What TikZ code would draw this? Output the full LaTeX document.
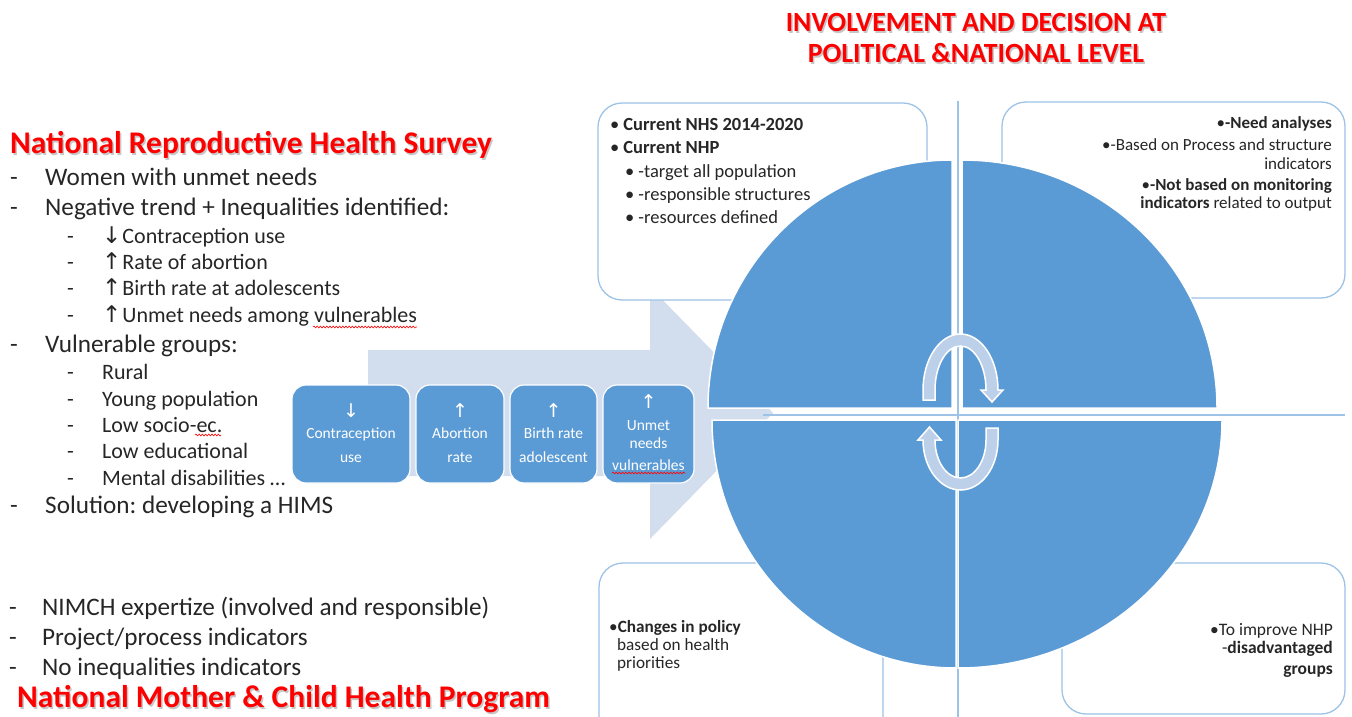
\documentclass[tikz,border=0pt]{standalone}
\usepackage{fontspec}
\setmainfont{Carlito}
\newfontfamily\arrowfont{DejaVu Sans}
\usetikzlibrary{decorations.pathmorphing}
\definecolor{pieblue}{HTML}{5B9BD5}
\definecolor{boxline}{HTML}{9DC3E6}
\definecolor{bigarrow}{HTML}{D2DDEE}
\definecolor{cycfill}{HTML}{BDD0EA}
\definecolor{titlered}{HTML}{FF0000}
\definecolor{txt}{HTML}{262626}
\frenchspacing
\begin{document}
\begin{tikzpicture}[x=1pt,y=1pt,
  lst/.style={anchor=base west, inner sep=0, font=\fontsize{25.2}{29}\selectfont, text=txt},
  sublst/.style={anchor=base west, inner sep=0, font=\fontsize{22}{26}\selectfont, text=txt},
  redtitle/.style={inner sep=0, font=\fontsize{31.5}{36}\selectfont\bfseries, text=titlered},
  shadowtitle/.style={inner sep=0, font=\fontsize{31.5}{36}\selectfont\bfseries, text=black, opacity=0.22},
  toptitle/.style={anchor=base, inner sep=0, font=\fontsize{27.8}{33}\selectfont\bfseries, text=titlered},
  topshadow/.style={anchor=base, inner sep=0, font=\fontsize{27.8}{33}\selectfont\bfseries, text=black, opacity=0.22},
  bigbox/.style={draw=boxline, line width=1.3pt, fill=white, rounded corners=24pt},
  sbox/.style={draw=white, line width=1.2pt, fill=pieblue, rounded corners=14pt, inner sep=0},
  stext/.style={anchor=base, inner sep=0, font=\fontsize{15.5}{18}\selectfont, text=white},
  sarrow/.style={anchor=base, inner sep=0, font=\arrowfont\fontsize{19}{20}\selectfont, text=white},
  tltext/.style={anchor=base west, inner sep=0, font=\fontsize{18.5}{22}\selectfont, text=txt},
  trtext/.style={anchor=base east, inner sep=0, font=\fontsize{17}{20}\selectfont, text=txt},
  bltext/.style={anchor=base west, inner sep=0, font=\fontsize{17.2}{20}\selectfont, text=txt},
  brtext/.style={anchor=base east, inner sep=0, font=\fontsize{17.5}{20}\selectfont, text=txt},
  quad/.style={fill=pieblue, draw=white, line width=1.5pt},
  axis/.style={draw=boxline, line width=2pt},
  cyc/.style={fill=cycfill, draw=white, line width=1.5pt},
  squiggle/.style={draw=red, line width=0.6pt, decorate, decoration={snake, amplitude=0.9pt, segment length=3.2pt}}
]
\newcommand{\myarr}[1]{{\arrowfont\fontsize{23}{24}\selectfont #1}\hspace{1pt}}
\useasboundingbox (0,0) rectangle (1352,-717);

% big light arrow
\fill[bigarrow] (368,-350) -- (650,-350) -- (650,-287) -- (773,-413) -- (650,-539) -- (650,-476) -- (368,-476) -- cycle;

% small boxes
\node[sbox, minimum width=118, minimum height=98] (b1) at (351,-434) {};
\node[sbox, minimum width=88, minimum height=98] (b2) at (460,-434) {};
\node[sbox, minimum width=87, minimum height=98] (b3) at (553.5,-434) {};
\node[sbox, minimum width=91, minimum height=98] (b4) at (648.5,-434) {};
\node[sarrow] (b1a) at (351,-417) {↓};
\node[stext] (b1b) at (351,-438) {Contraception};
\node[stext] (b1c) at (351,-462) {use};
\node[sarrow] (b2a) at (460,-417) {↑};
\node[stext] (b2b) at (460,-438) {Abortion};
\node[stext] (b2c) at (460,-462) {rate};
\node[sarrow] (b3a) at (553.5,-417) {↑};
\node[stext] (b3b) at (553.5,-438) {Birth rate};
\node[stext] (b3c) at (553.5,-462) {adolescent};
\node[sarrow] (b4a) at (648.5,-408) {↑};
\node[stext] (b4b) at (648.5,-430) {Unmet};
\node[stext] (b4c) at (648.5,-448) {needs};
\node[stext] (b4d) at (648.5,-470) {vulnerables};
\draw[squiggle] (612,-473) -- (685,-473);

% big boxes
\draw[bigbox] (598,-103) rectangle (927,-300);
\draw[bigbox] (1002,-102) rectangle (1345,-298);
\draw[bigbox] (599,-563) rectangle (883,-740);
\draw[bigbox] (1062,-563) rectangle (1345,-714);

% axis lines
\draw[axis] (958,-101) -- (958,-717);
\draw[axis] (763,-415) -- (1345,-415);

% quadrants
\filldraw[quad] (952,-408) -- (708,-408) arc[start angle=180, end angle=90, x radius=244, y radius=248] -- cycle;
\filldraw[quad] (962,-408) -- (962,-160) arc[start angle=90, end angle=0, x radius=255, y radius=248] -- cycle;
\filldraw[quad] (956,-420) -- (956,-668) arc[start angle=270, end angle=180, x radius=244, y radius=248] -- cycle;
\filldraw[quad] (958,-420) -- (1222,-420) arc[start angle=0, end angle=-90, x radius=264, y radius=248] -- cycle;

% cycle arrows
\filldraw[cyc] (923,-400) -- (923,-390) arc[start angle=180, end angle=0, x radius=37.5, y radius=56] -- (1003,-390) -- (992,-402) -- (981,-390) -- (986,-390) arc[start angle=0, end angle=180, x radius=25.5, y radius=44] -- (935,-400) -- cycle;
\filldraw[cyc] (998,-428) -- (998,-440) arc[start angle=0, end angle=-180, x radius=37.5, y radius=50] -- (918,-440) -- (929.5,-427) -- (941,-440) -- (935,-440) arc[start angle=-180, end angle=0, x radius=25.5, y radius=38] -- (986,-428) -- cycle;

% top title
\node[topshadow] (tt1s) at (977.5,-34) {INVOLVEMENT AND DECISION AT};
\node[topshadow] (tt2s) at (977.5,-65) {POLITICAL \&NATIONAL LEVEL};
\node[toptitle] (tt1) at (976,-32) {INVOLVEMENT AND DECISION AT};
\node[toptitle] (tt2) at (976,-63) {POLITICAL \&NATIONAL LEVEL};

% left titles
\node[shadowtitle, anchor=base west] (lt1s) at (11.5,-155) {National Reproductive Health Survey};
\node[redtitle, anchor=base west] (lt1) at (10,-153.5) {National Reproductive Health Survey};
\node[shadowtitle, anchor=base west] (lt2s) at (18.5,-709) {National Mother \& Child Health Program};
\node[redtitle, anchor=base west] (lt2) at (17,-707.5) {National Mother \& Child Health Program};

% left list
\node[lst] (d1) at (10,-185) {-};
\node[lst] (t1) at (45,-185) {Women with unmet needs};
\node[lst] (d2) at (10,-215) {-};
\node[lst] (t2) at (45,-215) {Negative trend + Inequalities identified:};
\node[sublst] (e1) at (67,-243) {-};
\node[sublst] (u1) at (102,-243) {\myarr{↓}Contraception use};
\node[sublst] (e2) at (67,-269) {-};
\node[sublst] (u2) at (102,-269) {\myarr{↑}Rate of abortion};
\node[sublst] (e3) at (67,-295) {-};
\node[sublst] (u3) at (102,-295) {\myarr{↑}Birth rate at adolescents};
\node[sublst] (e4) at (67,-322) {-};
\node[sublst] (u4) at (102,-322) {\myarr{↑}Unmet needs among vulnerables};
\draw[squiggle] (313,-327) -- (417,-327);
\node[lst] (d3) at (10,-352) {-};
\node[lst] (t3) at (45,-352) {Vulnerable groups:};
\node[sublst] (e5) at (67,-379) {-};
\node[sublst] (u5) at (102,-379) {Rural};
\node[sublst] (e6) at (67,-406) {-};
\node[sublst] (u6) at (102,-406) {Young population};
\node[sublst] (e7) at (67,-432) {-};
\node[sublst] (u7) at (102,-432) {Low socio-ec.};
\draw[squiggle] (195,-435) -- (221,-435);
\node[sublst] (e8) at (67,-458) {-};
\node[sublst] (u8) at (102,-458) {Low educational};
\node[sublst] (e9) at (67,-485) {-};
\node[sublst] (u9) at (102,-485) {Mental disabilities …};
\node[lst] (d4) at (10,-513) {-};
\node[lst] (t4) at (45,-513) {Solution: developing a HIMS};
\node[lst] (d5) at (9,-615) {-};
\node[lst] (t5) at (42,-615) {NIMCH expertize (involved and responsible)};
\node[lst] (d6) at (9,-645) {-};
\node[lst] (t6) at (42,-645) {Project/process indicators};
\node[lst] (d7) at (9,-675) {-};
\node[lst] (t7) at (42,-675) {No inequalities indicators};

% TL box text
\node[tltext] (p1) at (610,-130) {•\hspace{4pt}\textbf{Current NHS 2014-2020}};
\node[tltext] (p2) at (610,-153) {•\hspace{4pt}\textbf{Current NHP}};
\node[tltext] (p3) at (625,-177) {•\hspace{4pt}-target all population};
\node[tltext] (p4) at (625,-200) {•\hspace{4pt}-responsible structures};
\node[tltext] (p5) at (625,-223) {•\hspace{4pt}-resources defined};

% TR box text
\node[trtext] (q1) at (1332,-128) {•\textbf{-Need analyses}};
\node[trtext] (q2) at (1332,-150) {•-Based on Process and structure};
\node[trtext] (q3) at (1332,-169) {indicators};
\node[trtext] (q4) at (1332,-190) {•\textbf{-Not based on monitoring}};
\node[trtext] (q5) at (1332,-208) {\textbf{indicators} related to output};

% BL box text
\node[bltext] (r1) at (609,-632) {•\textbf{Changes in policy}};
\node[bltext] (r2) at (617,-650) {based on health};
\node[bltext] (r3) at (617,-668) {priorities};

% BR box text
\node[brtext] (w1) at (1333,-635) {•To improve NHP};
\node[brtext] (w2) at (1333,-653) {-\textbf{disadvantaged}};
\node[brtext] (w3) at (1333,-674) {\textbf{groups}};
\end{tikzpicture}
\end{document}
